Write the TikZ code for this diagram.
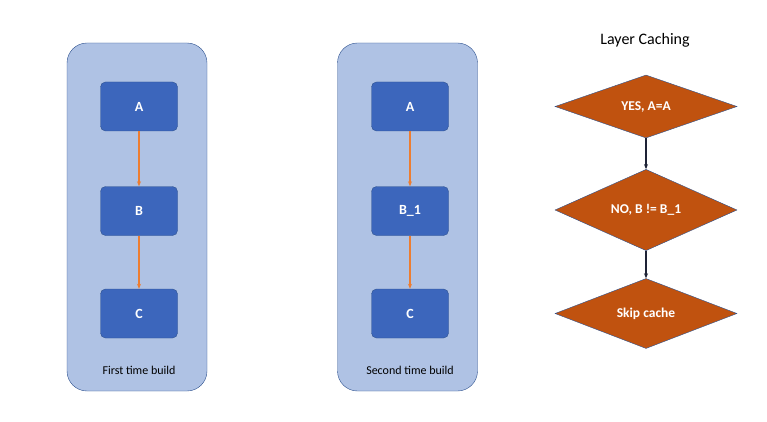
\documentclass[tikz,border=0pt]{standalone}
\usepackage{fontspec}
\setmainfont{Carlito}
\usetikzlibrary{arrows.meta, shapes.geometric, positioning}
\definecolor{panelfill}{HTML}{AFC2E4}
\definecolor{panelline}{HTML}{2F528F}
\definecolor{boxfill}{HTML}{3C66BC}
\definecolor{flowarrow}{HTML}{ED7D31}
\definecolor{checkfill}{HTML}{C0520F}
\definecolor{darkarrow}{HTML}{1E2336}
\tikzset{
    panel/.style={draw=panelline, fill=panelfill, rounded corners=20pt, minimum width=140pt, minimum height=348pt, inner sep=0pt},
    layer/.style={draw=panelline, fill=boxfill, rounded corners=5pt, minimum width=77pt, minimum height=49pt, inner sep=0pt, text=white, font=\fontsize{14}{16}\selectfont\bfseries},
    check/.style={diamond, draw=panelline, fill=checkfill, minimum width=182pt, minimum height=63pt, inner sep=0pt, text=white, font=\fontsize{13.5}{16}\selectfont\bfseries},
    flow/.style={-{Stealth[length=5pt, width=4pt]}, line width=1.2pt, flowarrow},
    next/.style={-{Stealth[length=5pt, width=4pt]}, line width=1.2pt, darkarrow},
    caption/.style={font=\fontsize{12}{14}\selectfont}
}
\begin{document}
\begin{tikzpicture}[x=1pt, y=-1pt]
    \useasboundingbox (0,0) rectangle (767,422);
    % first build
    \node[panel] (first) at (137,217) {};
    \node[layer] (a1) at (139,106.5) {A};
    \node[layer] (b1) at (139,211) {B};
    \node[layer] (c1) at (139,313.5) {C};
    \node[caption] (firstlbl) at (139,370) {First time build};
    \draw[flow] (a1) -- (b1);
    \draw[flow] (b1) -- (c1);
    % second build
    \node[panel] (second) at (407.5,217) {};
    \node[layer] (a2) at (410,106.5) {A};
    \node[layer] (b2) at (410,211) {B\_1};
    \node[layer] (c2) at (410,313.5) {C};
    \node[caption] (secondlbl) at (410,370) {Second time build};
    \draw[flow] (a2) -- (b2);
    \draw[flow] (b2) -- (c2);
    % layer caching checks
    \node[font=\fontsize{16}{18}\selectfont] (title) at (645,40) {Layer Caching};
    \node[check] (yes) at (646,106.5) {YES, A=A};
    \node[check] (no) at (646,210) {NO, B != B\_1};
    \node[check] (skip) at (646,313.5) {Skip cache};
    \draw[next] (yes) -- (no);
    \draw[next] (no) -- (skip);
\end{tikzpicture}
\end{document}
